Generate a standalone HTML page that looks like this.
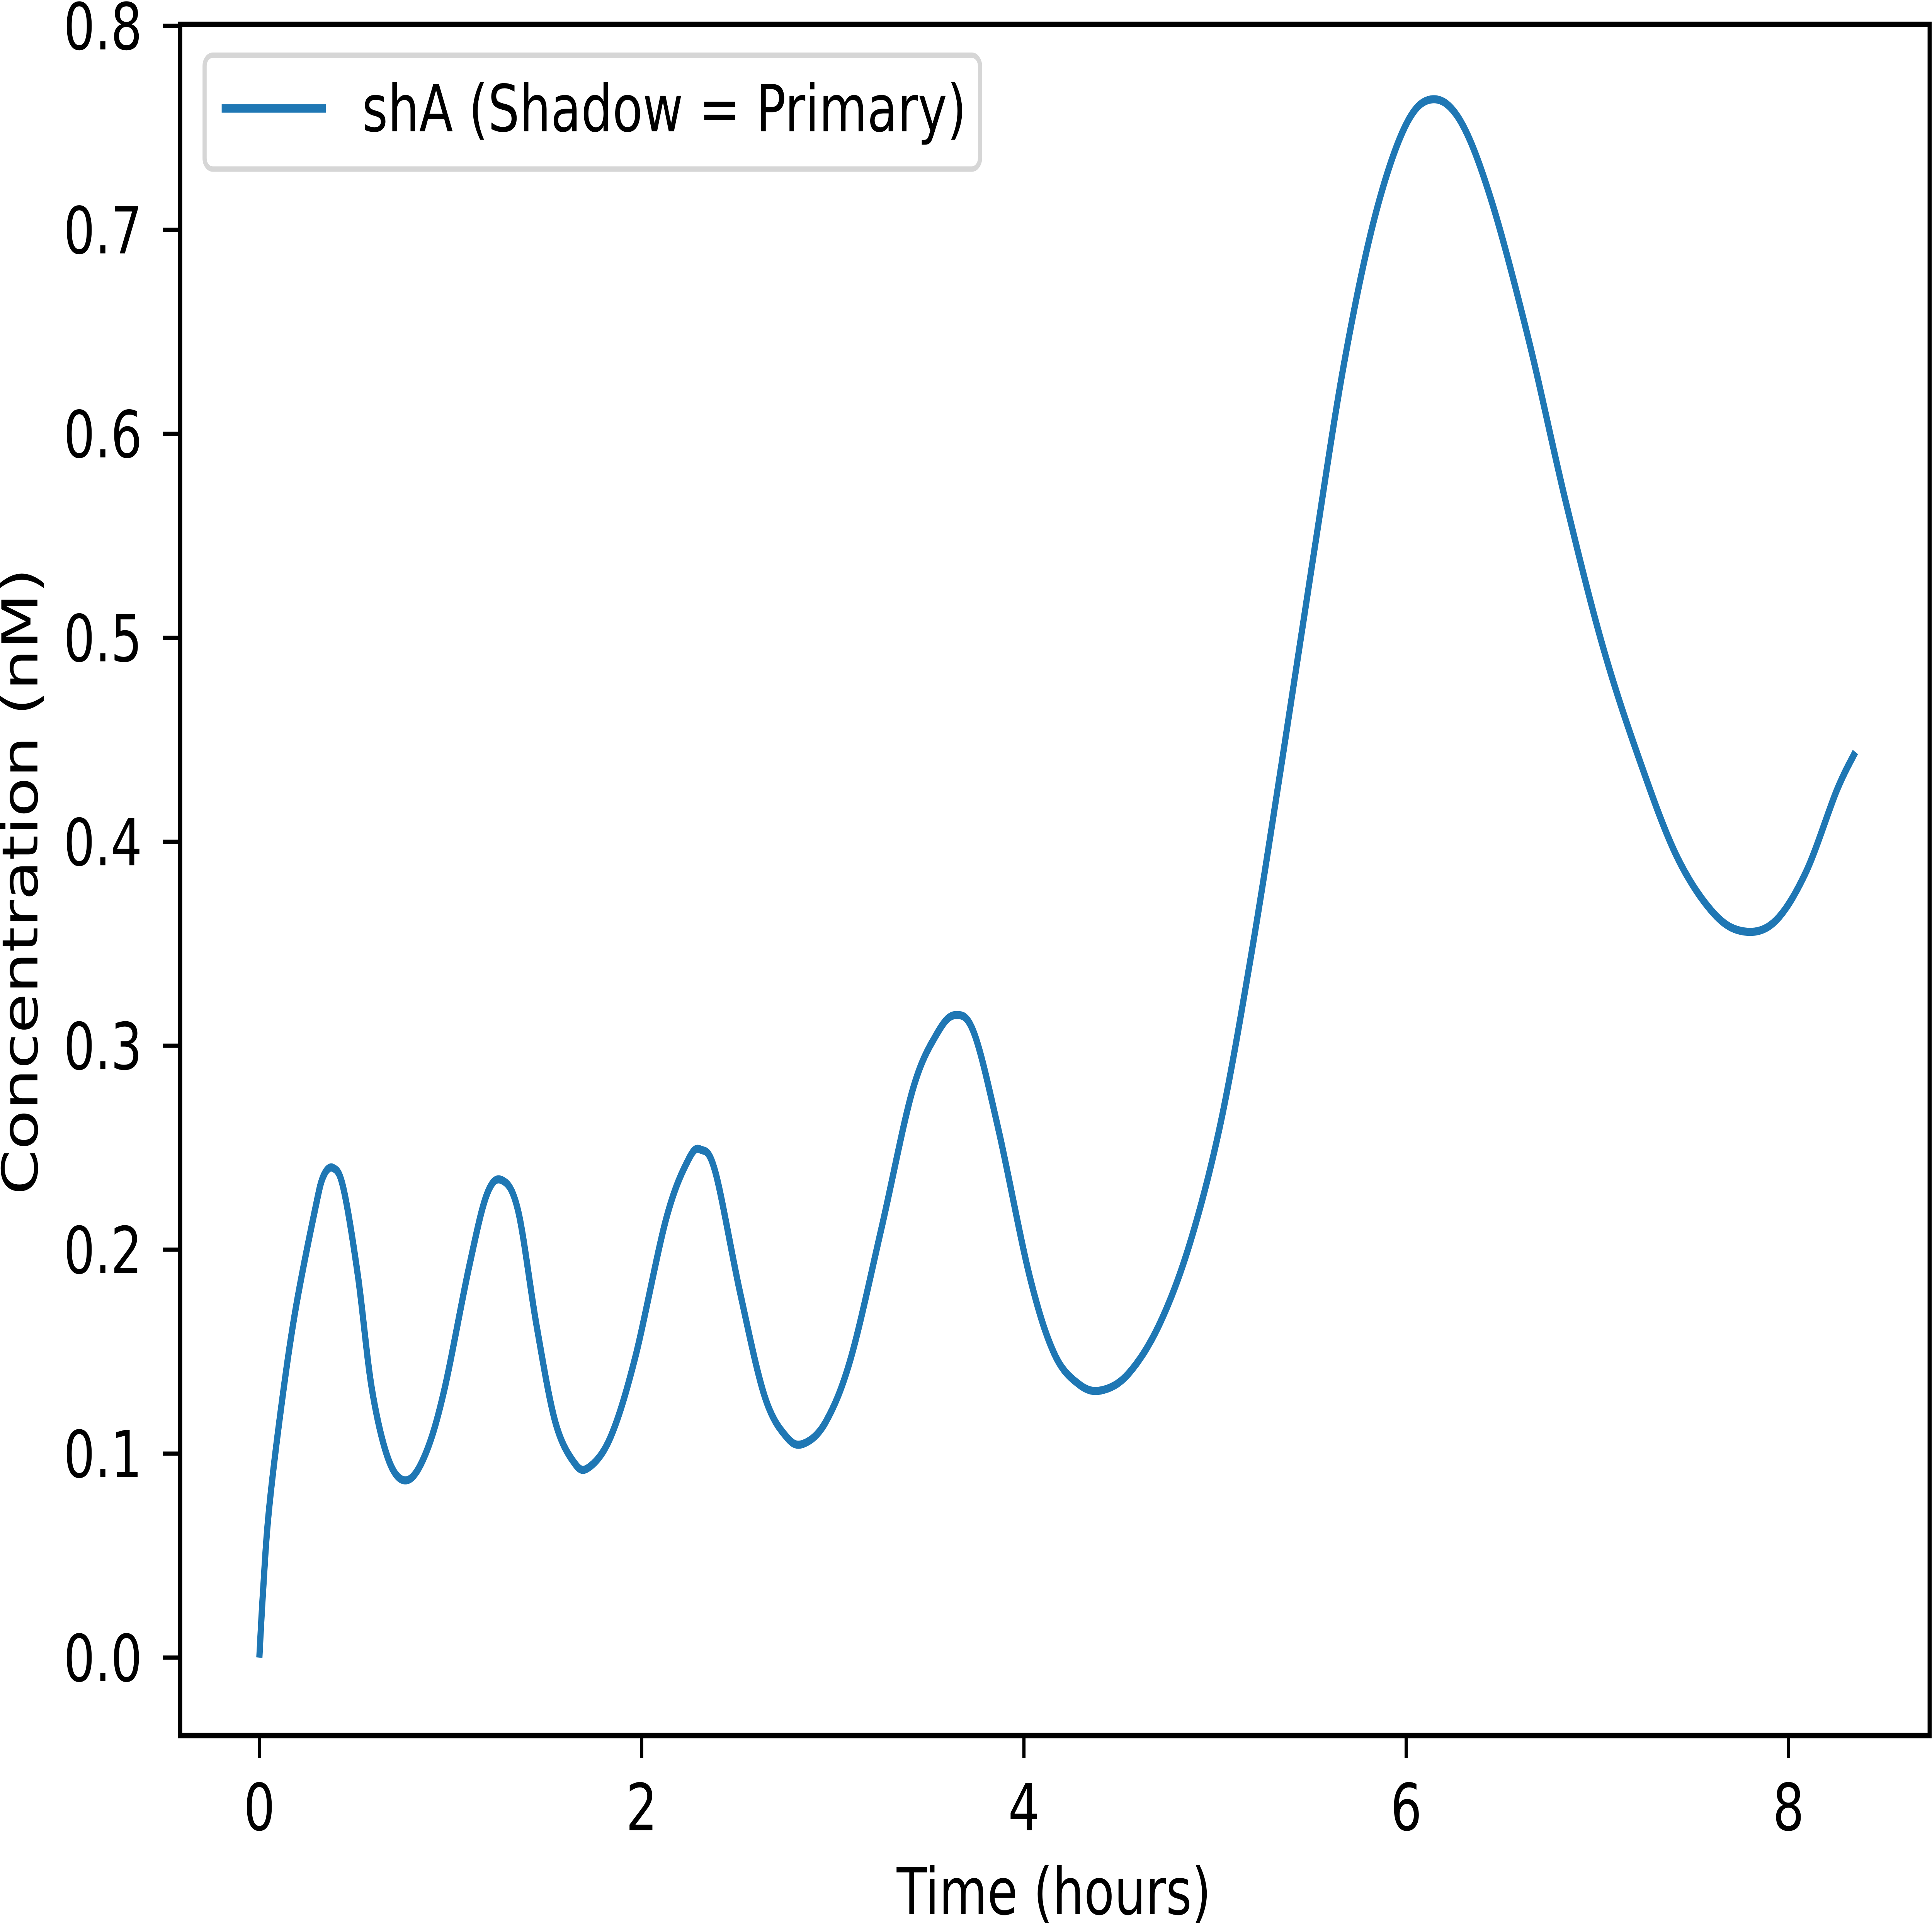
<!DOCTYPE html>
<html><head><meta charset="utf-8"><style>
html,body{margin:0;padding:0;background:#fff;width:100%;height:100%;overflow:hidden;}
svg{display:block;width:100vw;height:100vh;}
text{font-family:"DejaVu Sans","Liberation Sans",sans-serif;fill:#000;}
</style></head><body>
<svg id="chart" xmlns="http://www.w3.org/2000/svg" viewBox="0 0 6563 5006" preserveAspectRatio="none">
<rect x="0" y="0" width="6563" height="5006" fill="#fff"/>
<g id="plot"></g>
<g id="axes"></g>
<g>
<rect x="695" y="143" width="2634" height="295" rx="28" fill="#fff" fill-opacity="0.8" stroke="#d6d6d6" stroke-width="14"/>
<line x1="753" y1="281" x2="1107" y2="281" stroke="#1f77b4" stroke-width="22"/>
<text x="1230" y="340" font-size="168">shA (Shadow = Primary)</text>
</g>
<text x="3580" y="4960" font-size="168" text-anchor="middle">Time (hours)</text>
<text transform="translate(127,2284) rotate(-90)" font-size="168" text-anchor="middle">Concentration (nM)</text>
</svg>
<script>
const times=[0,0.019,0.05,0.116,0.19,0.29,0.335,0.387,0.44,0.516,0.59,0.68,0.774,0.87,0.967,1.096,1.19,1.27,1.354,1.45,1.547,1.644,1.72,1.837,1.966,2.128,2.244,2.31,2.386,2.515,2.644,2.76,2.85,2.966,3.095,3.256,3.417,3.546,3.643,3.74,3.869,4.03,4.159,4.288,4.404,4.545,4.707,4.868,5.029,5.19,5.351,5.513,5.674,5.835,5.996,6.138,6.286,6.447,6.641,6.834,7.028,7.221,7.415,7.608,7.769,7.93,8.091,8.252,8.35];
const shA=[0,0.032,0.072,0.124,0.171,0.219,0.236,0.24,0.23,0.187,0.131,0.096,0.087,0.1,0.131,0.191,0.227,0.234,0.219,0.163,0.116,0.096,0.093,0.108,0.147,0.215,0.244,0.249,0.238,0.179,0.128,0.108,0.105,0.116,0.147,0.211,0.278,0.306,0.315,0.306,0.258,0.187,0.149,0.134,0.131,0.139,0.163,0.203,0.262,0.345,0.44,0.539,0.634,0.706,0.751,0.764,0.753,0.714,0.646,0.567,0.496,0.44,0.393,0.365,0.356,0.361,0.385,0.425,0.444];
const xTicks=[0,2,4,6,8];
const yTicks=[0,0.1,0.2,0.3,0.4,0.5,0.6,0.7,0.8];
const yTickLabels=["0.0","0.1","0.2","0.3","0.4","0.5","0.6","0.7","0.8"];

const L=612,R=6555,T=63,B=4497;
const xS=t=>881+t*649.3;
const yS=v=>4295-v*5285;
const NS="http://www.w3.org/2000/svg";
const plot=document.getElementById('plot'), axes=document.getElementById('axes');
function mk(tag,attrs,parent){const e=document.createElementNS(NS,tag);for(const k in attrs)e.setAttribute(k,attrs[k]);parent.appendChild(e);return e;}

const P=times.map((t,i)=>[xS(t),yS(shA[i])]);
let d=`M${P[0][0]},${P[0][1]}`;
for(let i=0;i<P.length-1;i++){
  const p0=P[Math.max(0,i-1)],p1=P[i],p2=P[i+1],p3=P[Math.min(P.length-1,i+2)];
  const c1=[p1[0]+(p2[0]-p0[0])/6,p1[1]+(p2[1]-p0[1])/6];
  const c2=[p2[0]-(p3[0]-p1[0])/6,p2[1]-(p3[1]-p1[1])/6];
  d+=` C${c1[0]},${c1[1]} ${c2[0]},${c2[1]} ${p2[0]},${p2[1]}`;
}
const line=mk('path',{d:d,fill:'none',stroke:'#1f77b4','stroke-width':21,'stroke-linejoin':'round'},plot);



const frame=mk('rect',{x:L,y:T,width:R-L,height:B-T,fill:'none',stroke:'#000','stroke-width':14},axes);



xTicks.forEach(t=>{
  const x=xS(t);
  const tk=mk('line',{x1:x,y1:B,x2:x,y2:B+58,stroke:'#000','stroke-width':11},axes);
  
  
  const lb=mk('text',{x:x,y:4742,'font-size':168,'text-anchor':'middle'},axes);
  lb.textContent=String(t);
  
  
});
yTicks.forEach((v,i)=>{
  const y=yS(v);
  const tk=mk('line',{x1:L-58,y1:y,x2:L,y2:y,stroke:'#000','stroke-width':11},axes);
  
  
  const lb=mk('text',{x:483,y:y+61,'font-size':168,'text-anchor':'end'},axes);
  lb.textContent=yTickLabels[i];
  
  
});
</script>
</body></html>
